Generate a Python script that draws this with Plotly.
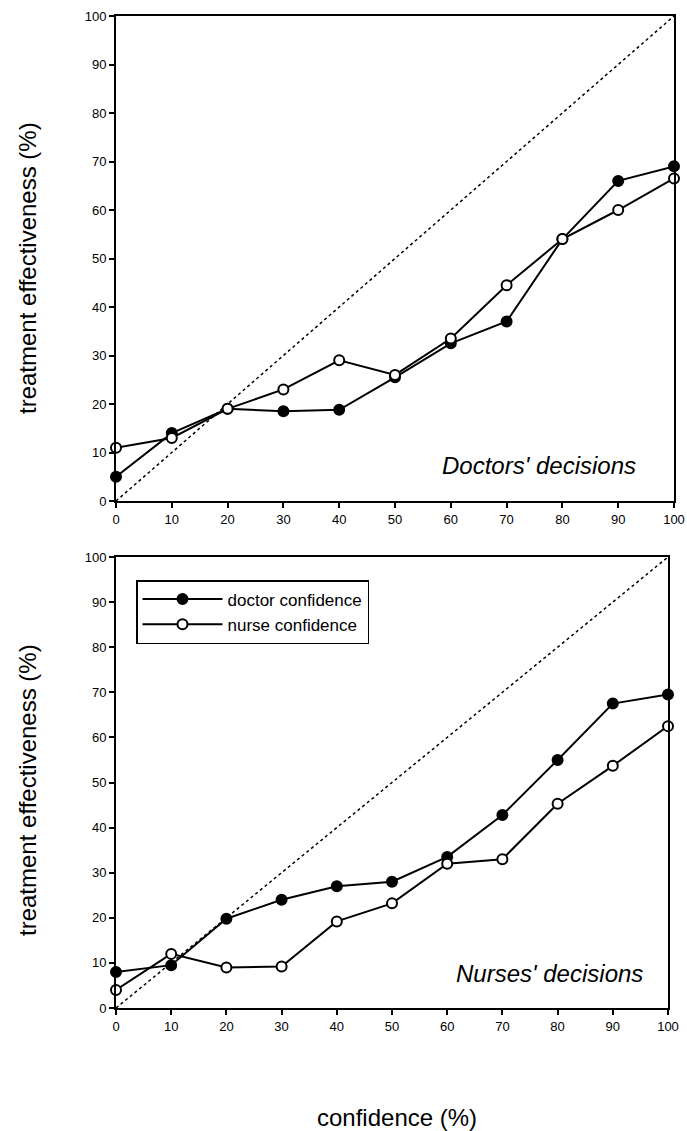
import plotly.graph_objects as go

confidence = [0, 10, 20, 30, 40, 50, 60, 70, 80, 90, 100]
tick_vals = [0, 10, 20, 30, 40, 50, 60, 70, 80, 90, 100]

# Doctors' decisions panel
doc_panel_doctor_conf = [5, 14, 19, 18.5, 18.8, 25.5, 32.5, 37, 54, 66, 69]
doc_panel_nurse_conf = [11, 13, 19, 23, 29, 26, 33.5, 44.5, 54, 60, 66.5]

# Nurses' decisions panel
nurse_panel_doctor_conf = [8, 9.5, 19.8, 24, 27, 28, 33.5, 42.8, 55, 67.5, 69.5]
nurse_panel_nurse_conf = [4, 12, 9, 9.2, 19.2, 23.2, 32, 33, 45.3, 53.7, 62.5]

W, H = 687, 1131
FONT = "Liberation Sans, Arial, sans-serif"

fig = go.Figure()

filled = dict(symbol="circle", size=10, color="black", line=dict(color="black", width=2))
hollow = dict(symbol="circle", size=10, color="white", line=dict(color="black", width=2))
line_style = dict(color="black", width=2)

for xa, ya, dvals, nvals, show in [("x", "y", doc_panel_doctor_conf, doc_panel_nurse_conf, False),
                                   ("x2", "y2", nurse_panel_doctor_conf, nurse_panel_nurse_conf, True)]:
    fig.add_trace(go.Scatter(x=[0, 100], y=[0, 100], mode="lines",
                             line=dict(color="black", width=1.5, dash="dot"),
                             xaxis=xa, yaxis=ya, showlegend=False, hoverinfo="skip"))
    fig.add_trace(go.Scatter(x=confidence, y=dvals, mode="lines+markers", name="doctor confidence",
                             line=line_style, marker=filled, xaxis=xa, yaxis=ya,
                             showlegend=show, cliponaxis=False))
    fig.add_trace(go.Scatter(x=confidence, y=nvals, mode="lines+markers", name="nurse confidence",
                             line=line_style, marker=hollow, xaxis=xa, yaxis=ya,
                             showlegend=show, cliponaxis=False))

axis_common = dict(range=[0, 100], tickvals=tick_vals, showgrid=False, zeroline=False,
                   showline=True, linecolor="black", linewidth=2, mirror=True,
                   ticks="outside", ticklen=5, tickwidth=1.5, tickcolor="black",
                   tickfont=dict(family=FONT, size=13, color="black"), automargin=False)

fig.update_layout(
    width=W, height=H,
    margin=dict(l=0, r=0, t=0, b=0),
    paper_bgcolor="white", plot_bgcolor="white",
    xaxis=dict(domain=[116 / W, 674 / W], anchor="y", **axis_common),
    yaxis=dict(domain=[1 - 501 / H, 1 - 16 / H], anchor="x", **axis_common),
    xaxis2=dict(domain=[116 / W, 668 / W], anchor="y2", **axis_common),
    yaxis2=dict(domain=[1 - 1008 / H, 1 - 557 / H], anchor="x2", **axis_common),
    legend=dict(x=136 / W, y=1 - 580 / H, xanchor="left", yanchor="top",
                bordercolor="black", borderwidth=1.5, bgcolor="white",
                font=dict(family=FONT, size=17, color="black"),
                itemwidth=80, tracegroupgap=0),
    showlegend=True,
    font=dict(family=FONT, color="black"),
)

annotations = [
    dict(text="<i>Doctors' decisions</i>", x=638 / W, y=1 - 465 / H, xref="paper", yref="paper",
         xanchor="right", yanchor="middle", showarrow=False, font=dict(family=FONT, size=24, color="black")),
    dict(text="<i>Nurses' decisions</i>", x=645 / W, y=1 - 973 / H, xref="paper", yref="paper",
         xanchor="right", yanchor="middle", showarrow=False, font=dict(family=FONT, size=24, color="black")),
    dict(text="treatment effectiveness (%)", x=27 / W, y=1 - 268 / H, xref="paper", yref="paper",
         textangle=-90, xanchor="center", yanchor="middle", showarrow=False,
         font=dict(family=FONT, size=24, color="black")),
    dict(text="treatment effectiveness (%)", x=27 / W, y=1 - 790 / H, xref="paper", yref="paper",
         textangle=-90, xanchor="center", yanchor="middle", showarrow=False,
         font=dict(family=FONT, size=24, color="black")),
    dict(text="confidence (%)", x=397 / W, y=1 - 1117 / H, xref="paper", yref="paper",
         xanchor="center", yanchor="middle", showarrow=False,
         font=dict(family=FONT, size=24, color="black")),
]
fig.update_layout(annotations=annotations)

fig.write_html("out.html")
